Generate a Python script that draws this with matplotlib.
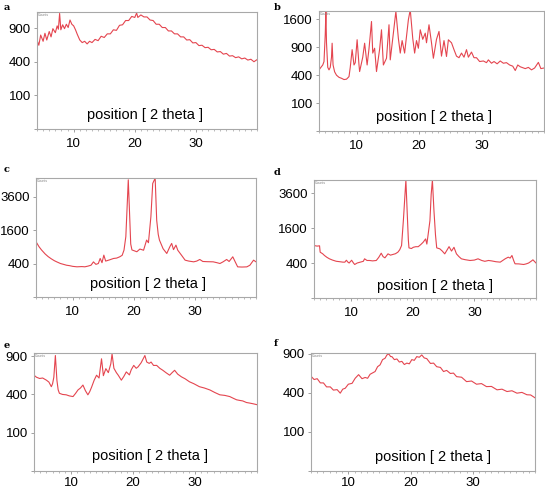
import numpy as np
import matplotlib
matplotlib.use("Agg")
import matplotlib.pyplot as plt
from matplotlib.ticker import FixedLocator, MultipleLocator

plt.rcParams['font.family'] = ['Liberation Sans', 'DejaVu Sans']

# ---- data (2theta, intensity) ----
tt_a = [4.0, 4.3, 4.6, 5.0, 5.3, 5.6, 6.0, 6.3, 6.6, 7.0, 7.3, 7.5, 7.7, 7.9, 8.2, 8.5, 8.8, 9.1, 9.4, 9.7,
        10.0, 10.3, 10.6, 11.0, 11.4, 11.8, 12.2, 12.6, 13.0, 13.5, 14.0, 14.5, 15.0, 15.5, 16.0, 16.5, 17.0,
        17.5, 18.0, 18.5, 19.0, 19.5, 20.0, 20.3, 20.5, 21.0, 21.5, 22.0, 22.5, 23.0, 23.5, 24.0, 24.5, 25.0,
        25.5, 26.0, 26.5, 27.0, 27.5, 28.0, 28.5, 29.0, 29.5, 30.0, 30.5, 31.0, 31.5, 32.0, 32.5, 33.0, 33.5,
        34.0, 34.5, 35.0, 35.5, 36.0, 36.5, 37.0, 37.5, 38.0, 38.5, 39.0, 39.5, 40.0]
int_a = [700, 620, 780, 680, 810, 700, 840, 750, 890, 820, 940, 880, 1180, 870, 960, 890, 970, 910, 1050, 970,
         940, 870, 790, 700, 660, 680, 640, 680, 660, 710, 690, 760, 740, 800, 800, 870, 860,
         950, 960, 1040, 1040, 1120, 1100, 1190, 1100, 1150, 1110, 1110, 1050, 1040, 970, 970, 910, 910,
         850, 850, 800, 800, 750, 750, 700, 705, 655, 660, 615, 620, 585, 590, 555, 560, 525,
         530, 495, 505, 470, 475, 450, 460, 435, 445, 420, 430, 400, 425]

tt_b = [4.0, 4.3, 4.6, 4.8, 5.0, 5.1, 5.2, 5.4, 5.6, 5.8, 6.0, 6.1, 6.25, 6.5, 6.8, 7.2, 7.6, 8.0, 8.4, 8.8,
        9.0, 9.3, 9.6, 9.8, 10.1, 10.4, 10.5, 11.0, 11.3, 11.7, 12.0, 12.4, 12.6, 12.9, 13.2, 13.7, 14.0,
        14.3, 14.8, 15.2, 15.4, 15.9, 16.3, 16.7, 17.0, 17.3, 17.7, 18.3, 18.6, 19.0, 19.3, 19.6, 19.9,
        20.2, 20.6, 21.0, 21.2, 21.6, 22.0, 22.3, 22.8, 23.2, 23.6, 24.0, 24.4, 24.7, 25.2, 25.6, 26.0,
        26.4, 26.8, 27.2, 27.6, 27.9, 28.4, 28.8, 29.2, 29.7, 30.3, 30.8, 31.1, 31.6, 32.0, 32.5, 33.0,
        33.5, 34.0, 34.5, 35.0, 35.4, 35.8, 36.2, 37.0, 37.5, 38.0, 38.5, 39.1, 39.5, 40.0]
int_b = [480, 520, 560, 620, 1200, 1840, 1000, 520, 480, 520, 700, 990, 560, 450, 400, 370, 357, 340, 345, 380,
         520, 850, 560, 600, 1070, 560, 454, 700, 990, 560, 870, 1540, 780, 880, 454, 860, 1316,
         560, 680, 1450, 650, 1230, 1840, 1100, 780, 1050, 780, 1590, 1890, 1100, 780, 1050, 880,
         1316, 1080, 1230, 1000, 1450, 1000, 680, 1080, 1274, 720, 1050, 713, 1069, 1000, 850, 720,
         690, 780, 700, 850, 700, 800, 690, 690, 620, 630, 600, 650, 590, 620, 580, 630,
         590, 600, 560, 540, 470, 560, 530, 500, 520, 480, 510, 605, 500, 510]

tt_c = [4.0, 4.5, 4.9, 5.5, 6.0, 6.5, 7.0, 7.4, 8.0, 8.5, 9.0, 9.5, 10.0, 10.7, 11.5, 12.0, 12.5, 13.0, 13.4,
        13.8, 14.2, 14.5, 14.8, 15.1, 15.4, 16.0, 16.7, 17.2, 17.7, 18.1, 18.4, 18.7, 18.9, 19.1, 19.3,
        19.5, 19.7, 20.1, 20.5, 21.0, 21.3, 21.6, 22.1, 22.4, 22.8, 23.1, 23.5, 23.75, 24.0, 24.2, 24.8,
        25.4, 25.9, 26.2, 26.5, 26.9, 27.2, 27.8, 28.4, 29.0, 29.8, 30.3, 30.8, 31.3, 32.0, 33.0, 33.6,
        34.1, 34.6, 35.2, 35.6, 36.2, 36.6, 37.0, 37.7, 38.5, 39.0, 39.6, 40.0]
int_c = [1090, 900, 790, 660, 580, 520, 470, 440, 400, 380, 360, 350, 335, 325, 330, 325, 340, 360, 440,
         380, 400, 530, 420, 625, 460, 490, 530, 540, 576, 620, 784, 1300, 2800, 4900, 2600,
         1000, 790, 760, 730, 820, 800, 780, 1156, 1050, 2300, 4600, 5040, 2100, 1400, 1156, 830,
         676, 900, 1024, 800, 960, 780, 625, 484, 460, 441, 460, 502, 450, 445, 441, 420,
         400, 440, 502, 450, 576, 440, 324, 320, 324, 360, 484, 441]

tt_d = [4.0, 4.5, 4.9, 5.0, 5.4, 5.7, 6.1, 6.5, 7.0, 7.6, 8.2, 8.7, 9.0, 9.25, 9.5, 9.7, 10.1, 10.4, 10.6,
        11.0, 11.5, 12.0, 12.2, 12.6, 13.0, 13.5, 14.1, 14.5, 14.9, 15.2, 15.5, 16.0, 16.4, 16.8, 17.2,
        17.6, 17.9, 18.2, 18.5, 18.9, 19.1, 19.3, 19.4, 19.8, 20.1, 20.5, 20.9, 21.3, 21.7, 22.1, 22.3,
        22.5, 22.8, 23.0, 23.2, 23.45, 23.7, 23.9, 24.4, 24.8, 25.2, 25.6, 25.9, 26.3, 26.7, 27.1, 27.5,
        27.9, 28.5, 29.3, 30.0, 30.6, 31.2, 31.7, 32.3, 32.8, 33.5, 34.2, 35.0, 35.5, 35.8, 36.1, 36.4,
        36.6, 37.2, 38.0, 38.4, 38.8, 39.2, 39.5, 40.0]
int_d = [900, 880, 890, 686, 640, 590, 540, 502, 470, 441, 430, 420, 420, 466, 420, 400, 466, 400, 367,
         400, 420, 440, 502, 460, 460, 450, 460, 540, 656, 560, 527, 637, 600, 620, 640,
         686, 760, 900, 2000, 4550, 2500, 1100, 821, 800, 840, 860, 860, 930, 1016, 1141, 950,
         1300, 1955, 3500, 4550, 2500, 1300, 821, 790, 720, 637, 760, 862, 720, 840, 637, 560,
         502, 480, 460, 470, 502, 460, 440, 460, 450, 430, 420, 502, 545, 520, 590, 450,
         382, 380, 367, 380, 400, 440, 476, 400]

tt_e = [4.0, 4.4, 4.9, 5.4, 6.0, 6.4, 6.8, 7.0, 7.2, 7.45, 7.7, 7.9, 8.1, 8.6, 9.2, 9.7, 10.3, 10.7, 11.1,
        11.5, 11.9, 12.3, 12.7, 13.0, 13.3, 13.7, 14.1, 14.5, 14.9, 15.2, 15.6, 16.0, 16.4, 16.6, 16.9,
        17.3, 17.6, 18.1, 18.5, 18.9, 19.4, 19.7, 20.1, 20.5, 20.8, 21.3, 21.9, 22.2, 22.6, 22.9, 23.3,
        23.8, 24.3, 24.8, 25.3, 25.9, 26.3, 26.7, 27.2, 27.8, 28.4, 29.1, 29.8, 30.7, 31.5, 32.4, 33.2,
        34.0, 34.8, 35.6, 36.2, 36.7, 37.2, 37.7, 38.3, 38.8, 39.4, 40.0]
int_e = [626, 600, 584, 590, 563, 540, 485, 520, 600, 910, 560, 450, 412, 400, 396, 385, 378, 410, 448,
         470, 504, 440, 396, 430, 480, 560, 626, 590, 859, 620, 715, 660, 785, 936, 720,
         660, 626, 563, 610, 670, 630, 700, 761, 720, 740, 800, 910, 810, 790, 810, 760,
         761, 720, 692, 660, 626, 660, 692, 640, 605, 580, 543, 520, 485, 470, 448, 420,
         396, 390, 378, 360, 346, 340, 335, 320, 315, 308, 300]

tt_f = [4.0, 4.5, 5.0, 5.5, 6.0, 6.5, 7.1, 7.6, 8.2, 8.7, 9.1, 9.5, 10.0, 10.6, 11.1, 11.65, 12.2, 12.7,
        13.1, 13.5, 14.3, 14.7, 15.1, 15.5, 15.9, 16.2, 16.5, 16.8, 17.0, 17.4, 17.8, 18.2, 18.6, 19.0,
        19.4, 19.8, 20.2, 20.6, 21.0, 21.4, 21.8, 22.2, 22.6, 23.2, 23.7, 24.2, 24.8, 25.3, 25.8, 26.4,
        26.9, 27.4, 28.2, 29.0, 29.8, 30.6, 31.4, 32.2, 33.0, 33.9, 34.7, 35.5, 36.3, 37.1, 37.9, 38.7,
        39.3, 40.0]
int_f = [590, 550, 560, 510, 510, 465, 465, 430, 435, 398, 440, 450, 495, 505, 565, 610, 560, 575,
         565, 615, 650, 715, 740, 815, 835, 885, 900, 860, 860, 815, 825, 780, 790, 745,
         765, 755, 815, 805, 860, 850, 885, 840, 830, 760, 765, 715, 705, 650, 665, 625,
         630, 585, 578, 525, 532, 495, 502, 468, 470, 433, 440, 415, 423, 398, 406, 382,
         380, 352]

panel_labels = ['a', 'b', 'c', 'd', 'e', 'f']
y_ticks = [[0, 100, 400, 900], [0, 100, 400, 900, 1600], [0, 400, 1600, 3600],
           [0, 400, 1600, 3600], [0, 100, 400, 900], [0, 100, 400, 900]]
y_tops = [1210, 1850, 5050, 4550, 950, 915]
x_ticks = [10, 20, 30]

series = [(tt_a, int_a), (tt_b, int_b), (tt_c, int_c), (tt_d, int_d), (tt_e, int_e), (tt_f, int_f)]

# axes boxes in pixels: left, top, right, bottom
W, H = 545, 491
boxes = [(37, 12, 257, 129), (319, 11, 544, 131),
         (36, 178, 256, 297), (314, 180, 536, 298),
         (34, 353, 257, 471), (311, 353, 535, 471)]
letter_pos = [(4, 8), (274, 8), (4, 169), (274, 173), (4, 345), (274, 344)]
text_pos = [(0.49, 0.12), (0.51, 0.12), (0.51, 0.11), (0.545, 0.10), (0.52, 0.13), (0.545, 0.12)]
x_pads = [4, 4, 4, 4, 1.5, 1.5]

fig = plt.figure(figsize=(W / 100, H / 100), dpi=100)

def fwd(y):
    return np.sqrt(np.clip(y, 0, None))

def inv(y):
    return np.square(y)

for i, (tt, inten) in enumerate(series):
    l, t, r, b = boxes[i]
    ax = fig.add_axes([l / W, 1 - b / H, (r - l) / W, (b - t) / H])
    ax.plot(tt, inten, color='#e4454f', lw=0.8)
    ax.set_yscale('function', functions=(fwd, inv))
    ax.set_xlim(4, 40)
    ax.set_ylim(0, y_tops[i])
    ax.yaxis.set_major_locator(FixedLocator(y_ticks[i]))
    ax.set_yticklabels([''] + [str(v) for v in y_ticks[i][1:]])
    ax.xaxis.set_major_locator(FixedLocator(x_ticks))
    ax.xaxis.set_minor_locator(MultipleLocator(1))
    ax.yaxis.set_minor_locator(FixedLocator([]))
    for s in ax.spines.values():
        s.set_color('#a8a8a8')
        s.set_linewidth(0.8)
    ax.tick_params(axis='both', which='major', colors='#a0a0a0', labelcolor='black',
                   labelsize=9.5, length=2.5, width=0.7, pad=2)
    ax.tick_params(axis='x', which='minor', colors='#a0a0a0', length=1.5, width=0.5)
    ax.tick_params(axis='x', which='major', pad=x_pads[i])
    tx, ty = text_pos[i]
    ax.text(tx, ty, 'position [ 2 theta ]', transform=ax.transAxes, ha='center', va='center',
            fontsize=10.5)
    ax.text(0.005, 0.995, 'Counts', transform=ax.transAxes, ha='left', va='top',
            fontsize=2.5, color='#888888')
    lx, ly = letter_pos[i]
    fig.text(lx / W, 1 - ly / H, panel_labels[i], family='DejaVu Serif', fontweight='bold',
             fontsize=7, ha='left', va='center')

fig.savefig('out.png', dpi=100)
